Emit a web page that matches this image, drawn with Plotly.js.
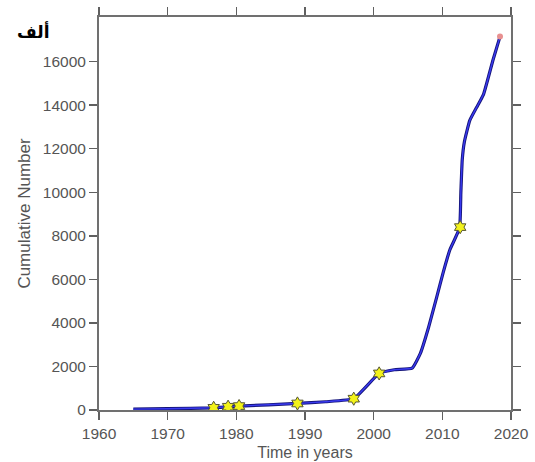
<!DOCTYPE html>
<html>
<head>
<meta charset="utf-8">
<script src="https://cdn.plot.ly/plotly-3.0.1.min.js"></script>
<style>html,body{margin:0;padding:0;background:#fff;}#chart{width:535px;height:462px;}</style>
</head>
<body>
<div id="chart"></div>
<script>
// Curve data (years, cumulative number)
const lineYears  = [1965, 1970, 1976.7, 1978.8, 1980.4, 1988.9, 1993, 1997.1, 2000.8, 2003, 2005.6, 2006.8, 2008.0, 2009.2, 2010.1, 2011.1, 2012.5, 2012.7, 2012.9, 2013.2, 2014.0, 2015.0, 2016.0, 2017.4, 2018.4];
const lineValues = [40, 60, 100, 150, 180, 300, 380, 520, 1680, 1850, 1920, 2600, 3800, 5210, 6290, 7360, 8350, 10000, 11500, 12300, 13300, 13900, 14500, 16100, 17150];
// Highlighted points
const markerYears  = [1976.7, 1978.8, 1980.4, 1988.9, 1997.1, 2000.8, 2012.6];
const markerValues = [100, 150, 180, 300, 520, 1680, 8400];
const endYear  = [2018.4];
const endValue = [17150];
// Ticks
const xTicks = [1960, 1970, 1980, 1990, 2000, 2010, 2020];
const yTicks = [0, 2000, 4000, 6000, 8000, 10000, 12000, 14000, 16000];

const traces = [
  {x: lineYears, y: lineValues, mode: 'lines', line: {color: '#14147a', width: 3.2, shape: 'spline', smoothing: 0.4}, hoverinfo: 'skip'},
  {x: lineYears, y: lineValues, mode: 'lines', line: {color: '#3a3af0', width: 1.4, shape: 'spline', smoothing: 0.4}},
  {x: markerYears, y: markerValues, mode: 'markers', marker: {symbol: 'hexagram', size: 10, color: '#f2f21a', line: {color: '#555533', width: 1}}},
  {x: endYear, y: endValue, mode: 'markers', marker: {symbol: 'circle', size: 6, color: '#e89090', line: {width: 0}}}
];

const FONT = 'Liberation Sans, Arial, sans-serif';
const axisCommon = {
  showgrid: false, zeroline: false, showline: true, linecolor: '#707070', linewidth: 2,
  mirror: 'ticks', ticks: 'outside', ticklen: 8, tickcolor: '#606060', tickwidth: 1.5,
  tickfont: {family: FONT, size: 15.5, color: '#555555'}
};

const layout = {
  width: 535, height: 462,
  margin: {l: 99, r: 24, t: 17, b: 52},
  paper_bgcolor: '#ffffff', plot_bgcolor: '#ffffff',
  showlegend: false,
  xaxis: Object.assign({}, axisCommon, {
    range: [1960, 2020], tickvals: xTicks, ticktext: xTicks.map(String),
    title: {text: 'Time in years', standoff: 6, font: {family: FONT, size: 16, color: '#555555'}}
  }),
  yaxis: Object.assign({}, axisCommon, {
    range: [0, 18050], tickvals: yTicks, ticktext: yTicks.map(String),
    title: {text: 'Cumulative Number', standoff: 8, font: {family: FONT, size: 17, color: '#555555'}}
  }),
  annotations: [{
    text: '<b>ألف</b>', xref: 'paper', yref: 'paper', x: -0.16, y: 0.962, xanchor: 'center', yanchor: 'middle',
    showarrow: false, font: {family: 'DejaVu Sans, Noto Sans, sans-serif', size: 17, color: '#000000'}
  }]
};

Plotly.newPlot('chart', traces, layout, {displayModeBar: false, staticPlot: true});
</script>
</body>
</html>
